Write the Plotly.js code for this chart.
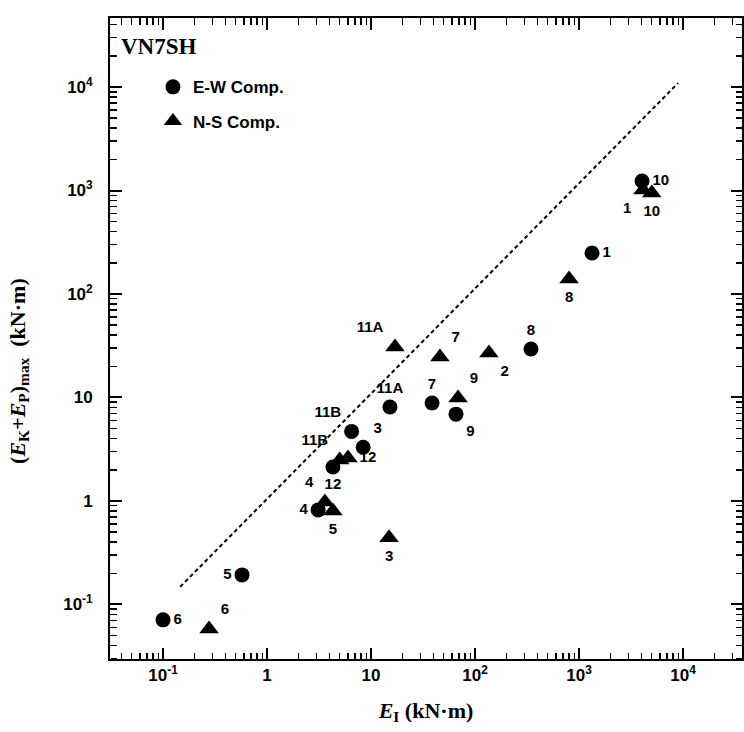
<!DOCTYPE html>
<html>
<head>
<meta charset="utf-8">
<script src="https://cdn.plot.ly/plotly-3.0.1.min.js"></script>
<style>html,body{margin:0;padding:0;background:#fff;overflow:hidden;}#chart{width:744px;height:732px;}</style>
</head>
<body>
<div id="chart"></div>
<script>
// E-W component (circles)
const ewLabels = ['6','5','4','12','11B','3','11A','7','9','8','1','10'];
const ewX = [0.1, 0.575, 3.1, 4.3, 6.5, 8.4, 15.2, 38.6, 65.6, 345, 1334, 4036];
const ewY = [0.071, 0.193, 0.82, 2.13, 4.7, 3.3, 8.1, 8.85, 6.9, 29.4, 249, 1236];
const ewPos = ['middle right','middle left','middle left','bottom center','top left','top right','top center','top center','bottom right','top center','middle right','middle right'];

// N-S component (triangles)
const nsLabels = ['6','4','5','11B','12','3','11A','7','9','2','8','1','10'];
const nsX = [0.277, 3.6, 4.3, 5.0, 6.0, 14.9, 17, 46, 68.7, 136, 802, 4120, 5010];
const nsY = [0.058, 0.98, 0.8, 2.49, 2.6, 0.44, 30.8, 24.6, 9.9, 26.9, 140, 1010, 946];
const nsPos = ['top right','top left','bottom center','top left','middle right','bottom center','top left','top right','top right','bottom right','bottom center','bottom left','bottom center'];

// Reference (dotted) line
const refX = [0.146, 8950];
const refY = [0.148, 10900];

// Axis ticks
const tickVals = [0.1, 1, 10, 100, 1000, 10000];
const xTickText = ['10<sup>-1</sup>', '1', '10', '10<sup>2</sup>', '10<sup>3</sup>', '10<sup>4</sup>'];
const yTickText = ['10<sup>-1</sup>\u2002\u2009', '1\u2002\u2009', '10\u2002\u2009', '10<sup>2</sup>\u2002\u2009', '10<sup>3</sup>\u2002\u2009', '10<sup>4</sup>\u2002\u2009'];
const minorMult = [2, 3, 4, 5, 6, 7, 8, 9];
const minorDecades = [0.01, 0.1, 1, 10, 100, 1000, 10000];
const minorVals = [];
minorDecades.forEach(d => minorMult.forEach(m => minorVals.push(d * m)));

const xRange = [-1.51, 4.567];
const yRange = [-1.527, 4.667];

const labelFont = {family: 'Liberation Sans, Arial, sans-serif', size: 15, color: '#000', weight: 'bold'};

const traces = [
  {x: refX, y: refY, mode: 'lines', line: {color: '#000', width: 2, dash: '4px,3px'}, showlegend: false, hoverinfo: 'skip'},
  {x: ewX, y: ewY, mode: 'markers+text', name: 'E-W Comp.', text: ewLabels, textposition: ewPos, legendgroup: 'ew',
   textfont: labelFont, marker: {symbol: 'circle', size: 15, color: '#000'}, cliponaxis: false},
  {x: nsX, y: nsY, mode: 'markers+text', name: 'N-S Comp.', text: nsLabels, textposition: nsPos, legendgroup: 'ns',
   textfont: labelFont, marker: {symbol: 'triangle-up', size: 17, color: '#000'}, cliponaxis: false},
  // empty traces so the tick-only overlay axes exist
  {x: [], y: [], xaxis: 'x2', yaxis: 'y2', mode: 'markers', showlegend: false, hoverinfo: 'skip'},
  {x: [], y: [], xaxis: 'x3', yaxis: 'y3', mode: 'markers', showlegend: false, hoverinfo: 'skip'}
];

const tickStyle = {
  ticklen: 11, tickwidth: 2, tickcolor: '#000', tickmode: 'array', tickvals: tickVals
};
const minorIn = {ticks: 'inside', ticklen: 6, tickwidth: 1.5, tickcolor: '#000', tickmode: 'array', tickvals: minorVals, showgrid: false};
const minorOut = {ticks: 'outside', ticklen: 6, tickwidth: 1.5, tickcolor: '#000', tickmode: 'array', tickvals: minorVals, showgrid: false};

const axisCommon = Object.assign({
  type: 'log', showgrid: false, zeroline: false, showline: true, linecolor: '#000', linewidth: 2,
  mirror: 'allticks', ticks: 'inside',
  tickfont: {family: 'Liberation Sans, Arial, sans-serif', size: 17, color: '#000', weight: 'bold'},
  minor: minorIn
}, tickStyle);

// Overlay axes carrying only tick marks that point into the plot from each edge
const tickOnly = Object.assign({
  type: 'log', showgrid: false, zeroline: false, showline: false, showticklabels: false,
  ticks: 'outside', anchor: 'free', minor: minorOut
}, tickStyle);

const titleFont = {family: 'Liberation Serif, Times New Roman, serif', size: 22, color: '#000', weight: 'bold'};

const layout = {
  width: 744, height: 732,
  margin: {l: 110, r: 2, t: 18, b: 73},
  paper_bgcolor: '#fff', plot_bgcolor: '#fff',
  xaxis: Object.assign({}, axisCommon, {
    range: xRange, ticktext: xTickText,
    title: {text: '<i>E</i><sub>I</sub> (kN·m)', standoff: 18, font: titleFont}
  }),
  yaxis: Object.assign({}, axisCommon, {
    range: yRange, ticktext: yTickText
  }),
  xaxis2: Object.assign({}, tickOnly, {range: xRange, overlaying: 'x', position: 0, side: 'top'}),
  yaxis2: Object.assign({}, tickOnly, {range: yRange, overlaying: 'y', position: 0, side: 'right'}),
  xaxis3: Object.assign({}, tickOnly, {range: xRange, overlaying: 'x', position: 1, side: 'bottom'}),
  yaxis3: Object.assign({}, tickOnly, {range: yRange, overlaying: 'y', position: 1, side: 'left'}),
  legend: {x: 0.068, y: 0.92, xanchor: 'left', yanchor: 'top', bgcolor: 'rgba(0,0,0,0)', tracegroupgap: 9,
           font: {family: 'Liberation Sans, Arial, sans-serif', size: 17, color: '#000', weight: 'bold'}},
  annotations: [
    {text: 'VN7SH', xref: 'paper', yref: 'paper', x: 0.015, y: 0.955, xanchor: 'left', yanchor: 'middle',
     showarrow: false, font: {family: 'Liberation Serif, Times New Roman, serif', size: 23, color: '#000', weight: 'bold'}},
    {text: '(<i>E</i><sub>K</sub>+<i>E</i><sub>P</sub>)<sub>max</sub>  (kN·m)', xref: 'paper', yref: 'paper',
     x: -0.145, xanchor: 'center', y: 0.45, yanchor: 'middle', textangle: -90, showarrow: false, font: titleFont}
  ],
  showlegend: true
};

Plotly.newPlot('chart', traces, layout, {displayModeBar: false, staticPlot: true});
</script>
</body>
</html>
